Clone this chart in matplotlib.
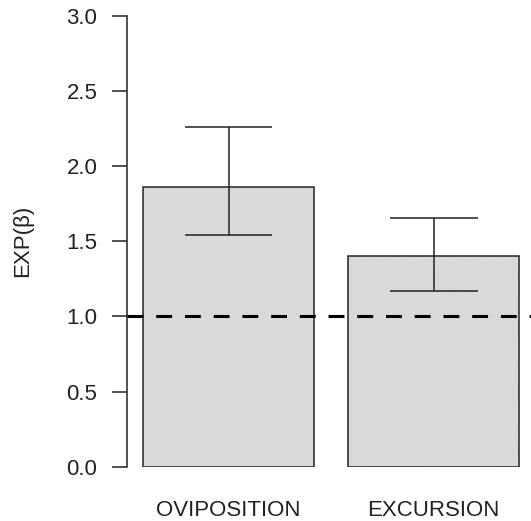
import matplotlib.pyplot as plt

plt.rcParams["font.family"] = ["Liberation Sans", "DejaVu Sans"]
plt.rcParams["hatch.linewidth"] = 0.8

categories = ["OVIPOSITION", "EXCURSION"]
exp_beta = [1.865, 1.405]
ci_low = [1.543, 1.171]
ci_high = [2.263, 1.658]
y_ticks = [0.0, 0.5, 1.0, 1.5, 2.0, 2.5, 3.0]

W, H = 531, 521
fig = plt.figure(figsize=(W / 100, H / 100), dpi=100)
ax = fig.add_axes([127 / W, 1 - 466.7 / H, (W - 127) / W, (466.7 - 16) / H])

# barplot layout: width 1, space 0.2
centers = [0.7, 1.9]
ax.bar(centers[0], exp_beta[0], width=1.0, color="#d9d9d9",
       edgecolor="#222222", linewidth=1.1, zorder=2)
hatched = ax.bar(centers[1], exp_beta[1], width=1.0, color="#e9e9e9",
                 edgecolor="#cdcdcd", linewidth=0, hatch="/" * 12, zorder=2)
# outline drawn separately so the hatch keeps its light colour
ax.bar(centers[1], exp_beta[1], width=1.0, fill=False,
       edgecolor="#222222", linewidth=1.1, zorder=3)

cap = 0.257
for c, lo, hi in zip(centers, ci_low, ci_high):
    ax.vlines(c, lo, hi, color="#222222", linewidth=1.1, zorder=4)
    ax.hlines([lo, hi], c - cap, c + cap, color="#222222", linewidth=1.1, zorder=4)

ax.axhline(1.0, color="black", linewidth=2.2, linestyle=(0, (5.2, 4.2)),
           zorder=5, clip_on=False)

ax.set_xlim(0.106, 2.469)
ax.set_ylim(0, 3)
for s in ["top", "right", "bottom"]:
    ax.spines[s].set_visible(False)
ax.spines["left"].set_linewidth(1.1)
ax.spines["left"].set_color("#222222")
ax.set_xticks([])
ax.set_yticks(y_ticks)
ax.set_yticklabels([f"{v:.1f}" for v in y_ticks])
ax.tick_params(axis="y", length=10.8, width=1.1, color="#222222",
               pad=10.5, labelsize=16, labelcolor="#222222")

for c, lab in zip(centers, categories):
    ax.text(c, -0.29, lab, ha="center", va="center", fontsize=16,
            color="#222222", clip_on=False)

fig.text(23 / W, 1 - 241 / H, "EXP(β)", rotation=90, ha="center", va="center",
         fontsize=16, color="#222222")

fig.savefig("out.png", dpi=100)
plt.close(fig)
